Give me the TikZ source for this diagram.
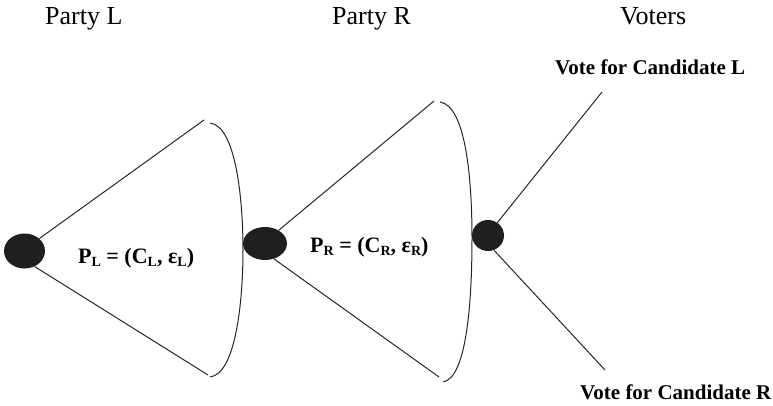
\documentclass[tikz,border=0pt]{standalone}
\usepackage{fontspec}
\setmainfont{Liberation Serif}
\usetikzlibrary{shapes.geometric}
\newcommand{\sbs}[1]{\raisebox{-0.32ex}{\fontsize{14}{14}\selectfont #1}}
\begin{document}
\begin{tikzpicture}[x=1pt,y=-1pt,
  dot/.style={ellipse,fill=black!88,draw=none,inner sep=0pt},
  edge/.style={line width=1pt,black!85},
  head/.style={font=\fontsize{26}{28}\selectfont,anchor=base west,inner sep=0pt},
  lab/.style={font=\fontsize{21}{23}\selectfont\bfseries,anchor=base west,inner sep=0pt},
  plab/.style={font=\fontsize{22}{24}\selectfont\bfseries,anchor=base west,inner sep=0pt}]
\useasboundingbox (0,0) rectangle (773,406);
% headings
\node[head] (hL) at (45,25) {Party L};
\node[head] (hR) at (332,25) {Party R};
\node[head] (hV) at (620,25) {Voters};
% decision nodes
\node[dot,minimum width=41pt,minimum height=35pt] (n1) at (24.5,251) {};
\node[dot,minimum width=44pt,minimum height=33pt] (n2) at (265,243.5) {};
\node[dot,minimum width=32pt,minimum height=31pt] (n3) at (488,235.5) {};
% end points
\coordinate (a1) at (204,120);
\coordinate (b1) at (208,375);
\coordinate (a2) at (434,101);
\coordinate (b2) at (439,377);
\coordinate (a3) at (602,92);
\coordinate (b3) at (605,370);
% branches
\draw[edge] (n1.40) -- (a1);
\draw[edge] (n1.-57) -- (b1);
\draw[edge] (n2.44) -- (a2);
\draw[edge] (n2.-60) -- (b2);
\draw[edge] (n3.54) -- (a3);
\draw[edge] (n3.-68) -- (b3);
% arcs
\coordinate (t1) at (210,123);
\coordinate (m1) at (243,250);
\coordinate (e1) at (210,377);
\draw[edge] (t1) .. controls (236,126) and (243,200) .. (m1)
             .. controls (243,300) and (236,374) .. (e1);
\coordinate (t2) at (440,102);
\coordinate (m2) at (472,238);
\coordinate (e2) at (443,382);
\draw[edge] (t2) .. controls (466,106) and (472,180) .. (m2)
             .. controls (472,300) and (467,378) .. (e2);
% labels
\node[plab] (pL) at (78,263) {P\sbs{L} = (C\sbs{L}, ε\sbs{L})};
\node[plab] (pR) at (310,252) {P\sbs{R} = (C\sbs{R}, ε\sbs{R})};
\node[lab] (vL) at (555,75) {Vote for Candidate L};
\node[lab] (vR) at (580,399) {Vote for Candidate R};
\end{tikzpicture}
\end{document}
